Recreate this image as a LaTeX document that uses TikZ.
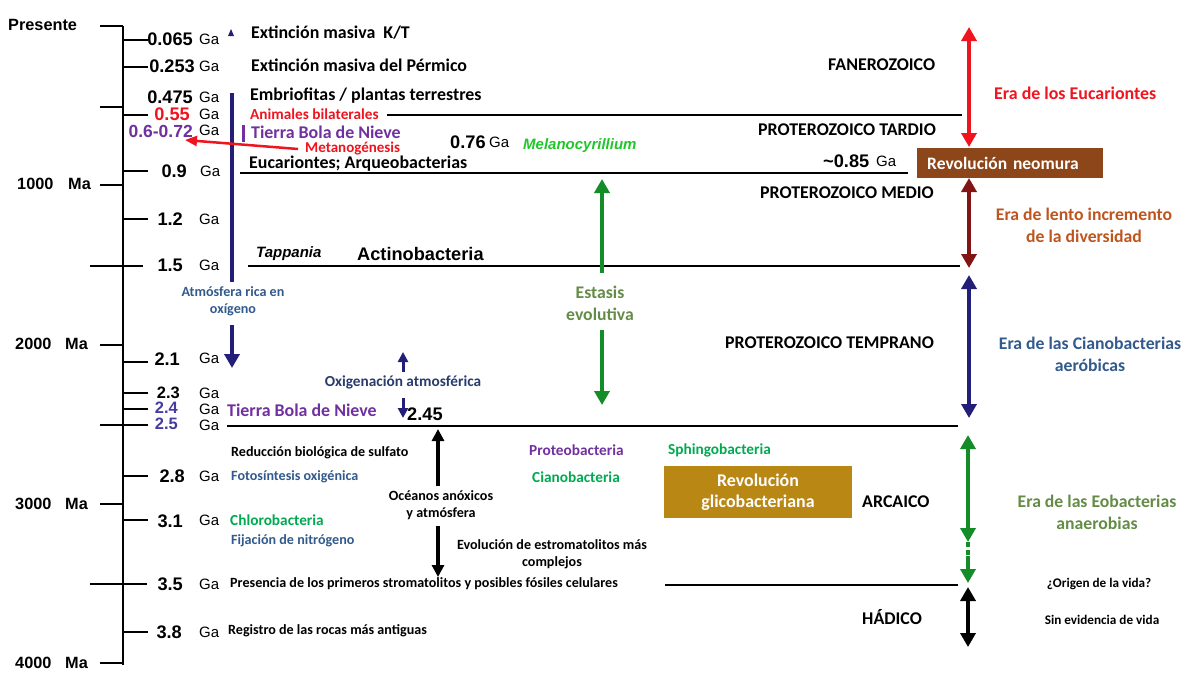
\documentclass[tikz,border=0pt]{standalone}
\usepackage{fontspec}
\setmainfont{Carlito}
\newfontfamily\arialf{Liberation Sans}
\usetikzlibrary{arrows.meta}
\definecolor{navyA}{RGB}{35,30,120}
\definecolor{purp}{RGB}{112,48,160}
\definecolor{bviolet}{RGB}{70,60,160}
\definecolor{redA}{RGB}{240,20,30}
\definecolor{dred}{RGB}{130,20,20}
\definecolor{brownbox}{RGB}{140,70,25}
\definecolor{brtext}{RGB}{190,85,30}
\definecolor{steel}{RGB}{50,90,140}
\definecolor{grtext}{RGB}{0,170,80}
\definecolor{brightg}{RGB}{30,200,40}
\definecolor{grarrow}{RGB}{20,140,40}
\definecolor{olive}{RGB}{100,140,70}
\definecolor{goldbox}{RGB}{185,135,20}
\definecolor{oxblue}{RGB}{40,60,110}
\begin{document}
\begin{tikzpicture}[x=1pt,y=-1pt,
  lbl/.style={font=\bfseries\fontsize{17.9}{20}\selectfont, inner sep=0pt, anchor=west},
  sml/.style={font=\bfseries\fontsize{14.1}{16}\selectfont, inner sep=0pt, anchor=west},
  tiny/.style={font=\bfseries\fontsize{13.2}{15}\selectfont, inner sep=0pt, anchor=center},
  mid/.style={font=\bfseries\fontsize{15.3}{17}\selectfont, inner sep=0pt, anchor=west},
  two/.style={font=\bfseries\fontsize{17.7}{22}\selectfont, inner sep=0pt, anchor=center, align=center},
  twosm/.style={font=\bfseries\fontsize{14.1}{16.5}\selectfont, inner sep=0pt, anchor=center, align=center},
  num/.style={font=\arialf\bfseries\fontsize{18.2}{20}\selectfont, inner sep=0pt, anchor=east},
  numsm/.style={font=\arialf\bfseries\fontsize{16.5}{18}\selectfont, inner sep=0pt, anchor=east},
  ga/.style={font=\arialf\fontsize{15}{16}\selectfont, inner sep=0pt, anchor=west},
  ma/.style={font=\arialf\bfseries\fontsize{16.3}{18}\selectfont, inner sep=0pt, anchor=west},
  tick/.style={line width=2.2pt},
  divl/.style={line width=1.8pt},
  bigarr/.style={line width=4pt, >={Triangle[width=15pt,length=14pt]}},
  medarr/.style={line width=3.5pt, >={Triangle[width=12pt,length=12pt]}},
  smarr/.style={line width=3pt, >={Triangle[width=10pt,length=10pt]}}
]
\useasboundingbox[fill=white] (0,0) rectangle (1204,686);

% ---------- axis ----------
\coordinate (axT) at (123,26);
\coordinate (axB) at (123,665);
\draw[line width=2.5pt] (axT) -- (axB);
\foreach \yy/\xa/\xb in {26/100/123,107/100/123,185/100/123,266/90/143,345/100/123,425/100/148,504/100/123,584/90/147,663/100/123}
  \draw[tick] (\xa,\yy) -- (\xb,\yy);
\foreach \yy in {40,67,115,171,219,362,393,409,476,520,632}
  \draw[tick] (123,\yy) -- (148,\yy);

% ---------- left labels ----------
\node[ma] (pres) at (8,25) {Presente};
\node[ma] (m1000) at (17,184) {1000}; \node[ma] (ma1) at (68,184) {Ma};
\node[ma] (m2000) at (15,344) {2000}; \node[ma] (ma2) at (65,344) {Ma};
\node[ma] (m3000) at (15,504) {3000}; \node[ma] (ma3) at (65,504) {Ma};
\node[ma] (m4000) at (15,663) {4000}; \node[ma] (ma4) at (65,663) {Ma};

\node[num] (n065) at (193,39) {0.065}; \node[ga] (g065) at (199,39) {Ga};
\node[num] (n253) at (195,66) {0.253}; \node[ga] (g253) at (199,66) {Ga};
\node[num] (n475) at (193,97) {0.475}; \node[ga] (g475) at (199,97) {Ga};
\node[num, text=redA] (n055) at (190,114) {0.55}; \node[ga] (g055) at (199,114) {Ga};
\node[numsm, text=purp, font=\arialf\bfseries\fontsize{17.5}{19}\selectfont] (n060) at (193,131) {0.6-0.72}; \node[ga] (g060) at (199,130) {Ga};
\node[num] (n09) at (187,171) {0.9}; \node[ga] (g09) at (200,171) {Ga};
\node[num] (n12) at (183,219) {1.2}; \node[ga] (g12) at (199,219) {Ga};
\node[num] (n15) at (183,265) {1.5}; \node[ga] (g15) at (199,265) {Ga};
\node[num] (n21) at (180,359) {2.1}; \node[ga] (g21) at (199,358) {Ga};
\node[numsm] (n23) at (180,393) {2.3}; \node[ga] (g23) at (199,393) {Ga};
\node[numsm, text=bviolet] (n24) at (178,408) {2.4}; \node[ga] (g24) at (199,409) {Ga};
\node[numsm, text=bviolet] (n25) at (178,424) {2.5}; \node[ga] (g25) at (199,425) {Ga};
\node[num] (n28) at (185,476) {2.8}; \node[ga] (g28) at (199,476) {Ga};
\node[num] (n31) at (183,521) {3.1}; \node[ga] (g31) at (199,520) {Ga};
\node[num] (n35) at (183,584) {3.5}; \node[ga] (g35) at (199,584) {Ga};
\node[num] (n38) at (182,632) {3.8}; \node[ga] (g38) at (199,632) {Ga};

% ---------- divider lines ----------
\coordinate (d1a) at (387,115); \coordinate (d1b) at (962,115);
\coordinate (d2a) at (240,173); \coordinate (d2b) at (908,173);
\coordinate (d3a) at (248,266); \coordinate (d3b) at (960,266);
\coordinate (d4a) at (227,426); \coordinate (d4b) at (958,426);
\coordinate (d5a) at (665,585); \coordinate (d5b) at (958,585);
\draw[divl] (d1a) -- (d1b);
\draw[divl] (d2a) -- (d2b);
\draw[divl] (d3a) -- (d3b);
\draw[divl] (d4a) -- (d4b);
\draw[divl] (d5a) -- (d5b);

% ---------- upper events ----------
\node[lbl] (ext1) at (251,33) {Extinción masiva~ K/T};
\node[lbl] (ext2) at (251,65) {Extinción masiva del Pérmico};
\node[lbl] (emb) at (250,96) {Embriofitas / plantas terrestres};
\node[mid, text=redA] (anim) at (250,114) {Animales bilaterales};
\node[lbl, text=purp] (tbn1) at (251,132) {Tierra Bola de Nieve};
\node[mid, text=redA, font=\bfseries\fontsize{15}{17}\selectfont] (meta) at (305,149) {Metanogénesis};
\node[lbl] (euc) at (249,164) {Eucariontes; Arqueobacterias};
\node[num, anchor=west] (n076) at (450,142) {0.76}; \node[ga, font=\arialf\fontsize{15}{17}\selectfont] (g076) at (489,142) {Ga};
\node[font=\arialf\bfseries\itshape\fontsize{15}{17}\selectfont, inner sep=0pt, anchor=west, text=brightg] (mel) at (523,146) {Melanocyrillium};
\node[num, anchor=west] (n085) at (823,161) {\char`~0.85}; \node[ga, font=\arialf\fontsize{15}{17}\selectfont] (g085) at (876,161) {Ga};
\node[lbl] (fan) at (828,65) {FANEROZOICO};
\node[lbl] (ptard) at (758,130) {PROTEROZOICO TARDIO};
\node[lbl] (pmed) at (760,193) {PROTEROZOICO MEDIO};
\node[fill=brownbox, anchor=west, minimum height=30pt, text width=166pt, inner xsep=10pt, inner ysep=0pt, align=left, text=white, font=\bfseries\fontsize{17.5}{19}\selectfont] (neo) at (917,163) {Revolución neomura};
\node[lbl, text=redA] (eraE) at (994,93) {Era de los Eucariontes};
\node[two, text=brtext] (eraL) at (1084,225) {Era de lento incremento\\de la diversidad};
\node[font=\arialf\bfseries\itshape\fontsize{15}{17}\selectfont, inner sep=0pt, anchor=west] (tapp) at (256,254) {Tappania};
\node[font=\arialf\bfseries\fontsize{18.2}{20}\selectfont, inner sep=0pt, anchor=west] (act) at (357,254) {Actinobacteria};

% blue atmosphere
\coordinate (atT) at (232,93); \coordinate (atM) at (232,282);
\coordinate (atA) at (232,325); \coordinate (atB) at (232,368);
\draw[line width=4pt, navyA] (atT) -- (atM);
\draw[bigarr, navyA, ->] (atA) -- (atB);
\node[twosm, text=steel] (atm) at (233,301) {Atmósfera rica en\\oxígeno};
\fill[navyA] (228,36) -- (234,36) -- (231,29) -- cycle;
\draw[line width=3pt, purp] (243,125) -- (243,142);
% red metanogenesis arrow
\coordinate (mtA) at (298,149); \coordinate (mtB) at (185,140);
\draw[line width=2.5pt, redA, -{Triangle[width=10pt,length=12pt]}] (mtA) -- (mtB);

% right eras arrows
\coordinate (r1) at (969,27); \coordinate (r2) at (969,147);
\draw[bigarr, redA, <->] (r1) -- (r2);
\coordinate (dr1) at (969,178); \coordinate (dr2) at (969,268);
\draw[bigarr, dred, <->] (dr1) -- (dr2);
\coordinate (nv1) at (969,275); \coordinate (nv2) at (969,418);
\draw[bigarr, navyA, <->] (nv1) -- (nv2);
\coordinate (g1) at (968,435); \coordinate (g2) at (968,542);
\coordinate (g3) at (968,556); \coordinate (g4) at (968,583);
\draw[bigarr, grarrow, <->] (g1) -- (g2);
\draw[line width=4pt, grarrow, dash pattern=on 5pt off 3pt] (g2) -- (g3);
\draw[bigarr, grarrow, ->] (g3) -- (g4);
\coordinate (b1) at (968,587); \coordinate (b2) at (968,647);
\draw[bigarr, black, <->] (b1) -- (b2);

% estasis
\coordinate (es1) at (602,273); \coordinate (es2) at (602,179);
\coordinate (es3) at (602,330); \coordinate (es4) at (602,405);
\draw[bigarr, grarrow, ->] (es1) -- (es2);
\draw[bigarr, grarrow, ->] (es3) -- (es4);
\node[two, text=olive] (est) at (600,303) {Estasis\\evolutiva};

\node[lbl] (ptemp) at (725,343) {PROTEROZOICO TEMPRANO};
\node[two, text=steel] (eraC) at (1090,354) {Era de las Cianobacterias\\aeróbicas};

% oxigenacion
\coordinate (ox1) at (403,372); \coordinate (ox2) at (403,352);
\coordinate (ox3) at (403,398); \coordinate (ox4) at (403,418);
\draw[smarr, navyA, ->] (ox1) -- (ox2);
\draw[smarr, navyA, ->] (ox3) -- (ox4);
\node[mid, anchor=center, text=oxblue] (oxi) at (403,382) {Oxigenación atmosférica};
\node[lbl, text=purp] (tbn2) at (227,410) {Tierra Bola de Nieve};
\node[num, anchor=west] (n245) at (407,414) {2.45};

% ---------- lower part ----------
\node[sml] (redu) at (231,453) {Reducción biológica de sulfato};
\node[sml, text=steel] (foto) at (231,477) {Fotosíntesis oxigénica};
\node[mid, text=grtext] (chl) at (230,520) {Chlorobacteria};
\node[sml, text=steel] (fij) at (231,541) {Fijación de nitrógeno};
\node[mid, text=purp] (prot) at (529,450) {Proteobacteria};
\node[mid, text=grtext] (sph) at (668,450) {Sphingobacteria};
\node[mid, text=grtext] (cia) at (532,477) {Cianobacteria};
\node[fill=goldbox, minimum width=188pt, minimum height=52pt, inner sep=0pt, align=center, text=white, font=\bfseries\fontsize{17.9}{21}\selectfont] (glico) at (758,492) {Revolución\\glicobacteriana};
\node[lbl] (arc) at (862,502) {ARCAICO};
\node[two, text=olive] (eraO) at (1097,512) {Era de las Eobacterias\\anaerobias};

\coordinate (oc1) at (438,486); \coordinate (oc2) at (438,429);
\coordinate (oc3) at (438,526); \coordinate (oc4) at (438,577);
\draw[medarr, black, ->] (oc1) -- (oc2);
\draw[medarr, black, ->] (oc3) -- (oc4);
\node[twosm] (oce) at (441,505) {Océanos anóxicos\\y atmósfera};
\node[twosm] (evo) at (552,554) {Evolución de estromatolitos más\\complejos};
\node[sml] (presn) at (230,584) {Presencia de los primeros stromatolitos y posibles fósiles celulares};
\node[sml] (reg) at (228,631) {Registro de las rocas más antiguas};
\node[tiny] (orig) at (1099,584) {¿Origen de la vida?};
\node[tiny] (sinv) at (1102,620) {Sin evidencia de vida};
\node[lbl] (had) at (862,617) {HÁDICO};
\end{tikzpicture}
\end{document}
